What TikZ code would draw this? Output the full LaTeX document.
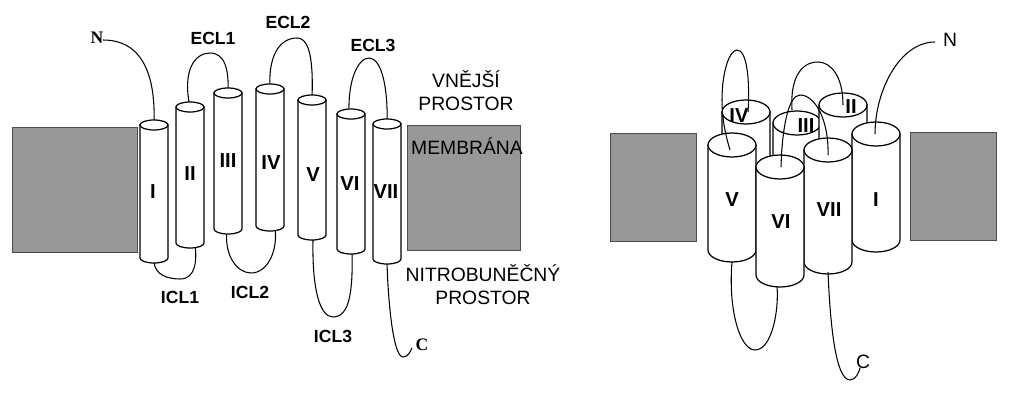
\documentclass[tikz,border=0pt]{standalone}
\usepackage{fontspec}
\setmainfont{Liberation Sans}
\newfontfamily\serf{Liberation Serif}
\newcommand\mycyl[5]{%
  \draw[cylline] (#1-#4,-#2) -- (#1-#4,-#3) arc[start angle=180,end angle=360,x radius=#4,y radius=#5] -- (#1+#4,-#2) -- cycle;
  \draw[cylline] (#1,-#2) ellipse[x radius=#4,y radius=#5];}
\begin{document}
\begin{tikzpicture}[x=0.02cm,y=0.02cm,
  cylline/.style={fill=white,draw=black,line width=0.7pt},
  loop/.style={draw=black,line width=0.6pt},
  memb/.style={fill=gray!85!black!70,draw=gray!60!black},
  lbl/.style={font=\bfseries\fontsize{10}{12}\selectfont},
  num/.style={font=\bfseries\fontsize{11.5}{13}\selectfont},
  txt/.style={font=\fontsize{11}{13}\selectfont,align=center},
  term/.style={font=\serf\bfseries\fontsize{10}{12}\selectfont}]
\useasboundingbox (0,0) rectangle (1023,-405);
% ===== left panel =====
\fill[memb] (12,-127) rectangle (137,-252);
\fill[memb] (407,-125) rectangle (520,-250);
% loops
\draw[loop] (103,-40) .. controls (150,-40) and (155,-90) .. (154,-122);
\draw[loop] (190,-107) .. controls (182,-70) and (195,-53) .. (210,-53) .. controls (225,-53) and (229,-70) .. (228,-92);
\draw[loop] (270,-89) .. controls (268,-55) and (280,-38) .. (297,-38) .. controls (312,-38) and (313,-70) .. (312,-99);
\draw[loop] (349,-112) .. controls (348,-80) and (358,-58) .. (369,-58) .. controls (382,-58) and (388,-90) .. (387,-121);
\draw[loop] (154,-262) .. controls (155,-275) and (168,-279) .. (180,-279) .. controls (196,-279) and (197,-260) .. (195,-244);
\draw[loop] (227,-231) .. controls (224,-255) and (237,-273) .. (251,-273) .. controls (268,-273) and (278,-250) .. (275,-228);
\draw[loop] (313,-240) .. controls (312,-290) and (320,-317) .. (333,-317) .. controls (350,-317) and (353,-290) .. (352,-250);
\draw[loop] (387,-262) .. controls (388,-300) and (393,-357) .. (403,-357) .. controls (408,-357) and (410,-352) .. (412,-348);
% cylinders
\mycyl{154}{125}{258}{14}{5}
\mycyl{190}{107}{243}{14}{5}
\mycyl{228}{93}{229}{14}{5}
\mycyl{270}{89}{226}{14}{5}
\mycyl{312}{100}{235}{14}{5}
\mycyl{351}{114}{249}{14}{5}
\mycyl{387}{124}{259}{14}{5}
\node[num] (l1) at (153,-192) {I};
\node[num] (l2) at (190,-174) {II};
\node[num] (l3) at (228,-161) {III};
\node[num] (l4) at (271,-163) {IV};
\node[num] (l5) at (313,-175) {V};
\node[num] (l6) at (350,-184) {VI};
\node[num] (l7) at (386,-192) {VII};
\node[term] (ln) at (97,-38) {N};
\node[term] (lc) at (422,-345) {C};
\node[lbl] (e1) at (213,-38) {ECL1};
\node[lbl] (e2) at (288,-22) {ECL2};
\node[lbl] (e3) at (373,-45) {ECL3};
\node[lbl] (i1) at (180,-297) {ICL1};
\node[lbl] (i2) at (250,-292) {ICL2};
\node[lbl] (i3) at (333,-336) {ICL3};
\node[txt] (out) at (466,-91) {VNĚJŠÍ\\PROSTOR};
\node[txt] (mem) at (467,-146) {MEMBRÁNA};
\node[txt] (ins) at (483,-285) {NITROBUNĚČNÝ\\PROSTOR};
% ===== right panel =====
\fill[memb] (610,-133) rectangle (696,-241);
\fill[memb] (910,-132) rectangle (996,-240);
% back cylinders
\mycyl{746}{112}{200}{24}{12}
\mycyl{797}{123}{200}{24}{12}
\mycyl{843}{105}{200}{24}{12}
\draw[loop] (843,-105) .. controls (843,-75) and (830,-62) .. (818,-62) .. controls (800,-62) and (790,-80) .. (792,-110);
% front cylinders
\mycyl{876}{134}{240}{24}{12}
\mycyl{732}{145}{250}{24}{12}
\mycyl{828}{150}{262}{24}{12}
\mycyl{780}{167}{275}{24}{12}
% top loops over cylinders
\draw[loop] (730,-150) .. controls (724,-130) and (722,-115) .. (722,-100) .. controls (722,-70) and (730,-50) .. (737,-50) .. controls (747,-50) and (750,-80) .. (748,-112);
\draw[loop] (781,-167) .. controls (782,-130) and (788,-95) .. (800,-95) .. controls (815,-95) and (829,-120) .. (828,-155);
% N and C, bottom loop
\draw[loop] (875,-134) .. controls (875,-90) and (900,-42) .. (935,-42);
\draw[loop] (732,-262) .. controls (728,-310) and (740,-350) .. (755,-350) .. controls (772,-350) and (779,-310) .. (777,-287);
\draw[loop] (828,-272) .. controls (830,-320) and (835,-380) .. (850,-380) .. controls (856,-380) and (859,-372) .. (860,-368);
\node[num] (r5) at (732,-200) {V};
\node[num] (r6) at (781,-222) {VI};
\node[num] (r7) at (829,-210) {VII};
\node[num] (r1) at (876,-200) {I};
\node[num] (r4) at (739,-116) {IV};
\node[num] (r3) at (806,-126) {III};
\node[num] (r2) at (851,-107) {II};
\node[txt] (rn) at (950,-40) {N};
\node[txt] (rc) at (863,-362) {C};
\end{tikzpicture}
\end{document}
